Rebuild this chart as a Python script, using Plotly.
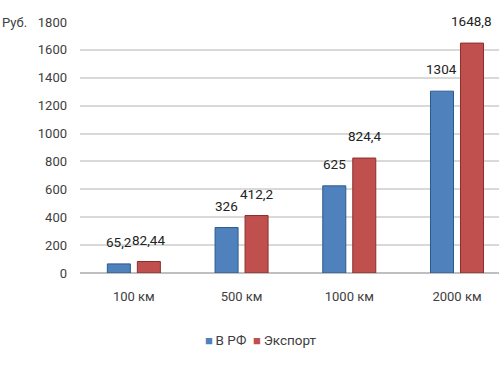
import plotly.graph_objects as go

categories = ["100 км", "500 км", "1000 км", "2000 км"]
rf_values = [65.2, 326, 625, 1304]
export_values = [82.44, 412.2, 824.4, 1648.8]
series_names = ["В РФ", "Экспорт"]
series_colors = ["#4F81BD", "#C0504D"]
y_ticks = [0, 200, 400, 600, 800, 1000, 1200, 1400, 1600, 1800]

FONT = "Roboto, Arial, sans-serif"
TXT = "#404040"

def fmt(v):
    return str(v).replace(".", ",")

fig = go.Figure()
fig.add_bar(x=categories, y=rf_values, name=series_names[0], showlegend=False,
            marker=dict(color=series_colors[0], line=dict(color="#2C5A8C", width=1)))
fig.add_bar(x=categories, y=export_values, name=series_names[1], showlegend=False,
            marker=dict(color=series_colors[1], line=dict(color="#8C2F2C", width=1)))

for vals, shift in ((rf_values, -15), (export_values, 15)):
    for c, v in zip(categories, vals):
        fig.add_annotation(x=c, y=v, text=fmt(v), showarrow=False,
                           xshift=shift, yshift=12, yanchor="bottom",
                           font=dict(family=FONT, size=13.5, color="#222222"))

fig.add_annotation(xref="paper", yref="paper", x=-0.19, y=1.0, text="Руб.",
                   showarrow=False, xanchor="left", yanchor="middle",
                   font=dict(family=FONT, size=13, color=TXT))

legend_text = "&nbsp;&nbsp;".join(
    "<span style='color:%s;font-size:13px'>■</span>&#8201;%s" % (col, name)
    for col, name in zip(series_colors, series_names))
fig.add_annotation(xref="paper", yref="paper", x=0.293, y=-0.267, text=legend_text,
                   showarrow=False, xanchor="left", yanchor="middle",
                   font=dict(family=FONT, size=13.5, color=TXT))

fig.update_layout(
    width=499, height=370,
    margin=dict(l=80, r=0, t=22, b=97, autoexpand=False),
    paper_bgcolor="white", plot_bgcolor="white",
    barmode="group", bargap=0.443, bargroupgap=0.233,
    font=dict(family=FONT, size=13, color=TXT),
    showlegend=False,
    xaxis=dict(type="category", range=[-0.5, 3.39], showgrid=False, automargin=False,
               showline=False, ticks="", ticklabelstandoff=14,
               tickfont=dict(size=13, color=TXT)),
    yaxis=dict(range=[0, 1800], tickvals=y_ticks, showgrid=True, automargin=False,
               gridcolor="#D9D9D9", gridwidth=1.5, zeroline=True,
               zerolinecolor="#BFBFBF", zerolinewidth=1.5, showline=False,
               ticks="", ticklabelstandoff=12, tickfont=dict(size=13, color=TXT)),
)

fig.write_html("out.html", config={"displayModeBar": False},
               post_script="document.body.style.margin='0';document.body.style.overflow='hidden';")
